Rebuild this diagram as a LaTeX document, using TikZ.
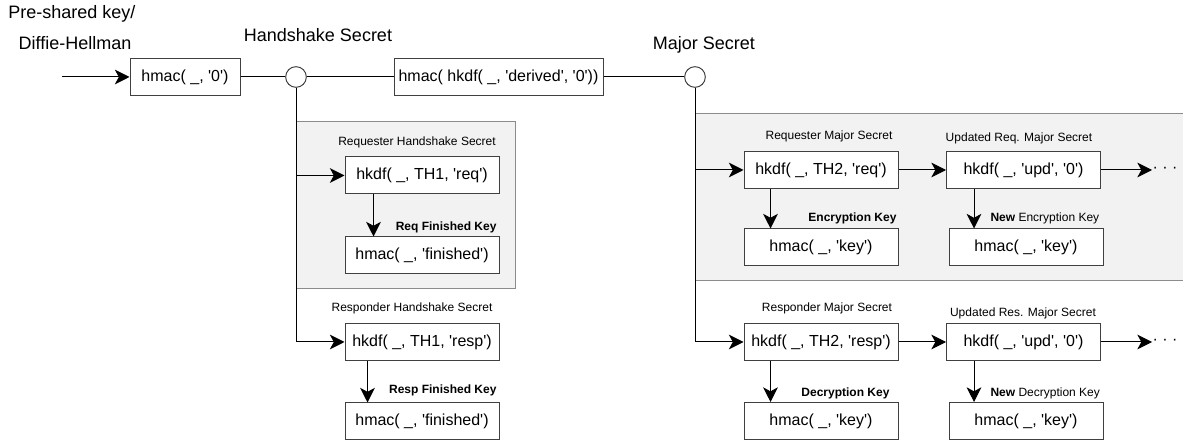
\documentclass[tikz,border=0pt]{standalone}
\usepackage{fontspec}
\setmainfont{Liberation Sans}[Ligatures=TeXOff]
\usetikzlibrary{arrows.meta}

\tikzset{
  keybox/.style={draw=black!75, fill=white, minimum width=115.5pt, minimum height=27.75pt, inner sep=0pt, font=\fontsize{12}{14}\selectfont},
  secret/.style={draw=black!75, fill=white, circle, minimum size=15.5pt, inner sep=0pt},
  tag/.style={inner sep=0pt, font=\fontsize{9}{11}\selectfont},
  title/.style={inner sep=0pt, font=\fontsize{13.5}{16}\selectfont},
  arr/.style={-{Stealth[length=11pt,width=11pt,inset=3pt]}},
  panel/.style={fill=black!5, draw=black!45},
}

\begin{document}
\begin{tikzpicture}[x=0.75pt,y=-0.75pt,line width=0.75pt]
    \useasboundingbox (0,0) rectangle (1183,441);
    % grey panels behind the requester branches
    \draw[panel] (296,122) rectangle (515,289);
    \fill[black!5] (695,114) rectangle (1183,281);
    \draw[black!45] (1183,114) -- (695,114) -- (695,281) -- (1183,281);

    % top row
    \node[title] (psk) at (72,14) {Pre-shared key/};
    \node[title] (dh) at (75,43) {Diffie-Hellman};
    \coordinate (in) at (62,77);
    \node[keybox, minimum width=82.5pt] (early) at (185,77) {hmac( \_, '0')};
    \node[secret] (hs) at (296,77) {};
    \node[title] (hslabel) at (318,35) {Handshake Secret};
    \node[keybox, minimum width=156.75pt] (derived) at (498.5,77) {hmac( hkdf( \_, 'derived', '0'))};
    \node[secret] (ms) at (695,77) {};
    \node[title] (mslabel) at (704,45) {Major Secret};

    \draw[arr] (in) -- (early); % input key
    \draw (early) -- (hs);
    \draw (hs) -- (derived);
    \draw (derived) -- (ms);

    % handshake secrets
    \node[keybox] (reqhs) at (422,175.5) {hkdf( \_, TH1, 'req')};
    \node[tag] (reqhslabel) at (417,142) {Requester Handshake Secret};
    \node[keybox] (reqfin) at (422,255.5) {hmac( \_, 'finished')};
    \node[tag, anchor=east] (reqfinlabel) at (497,227) {\bfseries Req Finished Key};
    \node[keybox] (resphs) at (422,342) {hkdf( \_, TH1, 'resp')};
    \node[tag] (resphslabel) at (412,308) {Responder Handshake Secret};
    \node[keybox] (respfin) at (422,421.5) {hmac( \_, 'finished')};
    \node[tag, anchor=east] (respfinlabel) at (497,390) {\bfseries Resp Finished Key};

    \draw[arr] (hs.south) |- (reqhs.west);
    \draw[arr] (hs.south) |- (resphs.west);
    \draw[arr] ([xshift=21.75pt]reqhs.south west) -- ([xshift=21.75pt]reqfin.north west);
    \draw[arr] ([xshift=17.25pt]resphs.south west) -- ([xshift=17.25pt]respfin.north west);

    % major secrets
    \node[keybox] (reqms) at (821,170) {hkdf( \_, TH2, 'req')};
    \node[tag] (reqmslabel) at (829,136) {Requester Major Secret};
    \node[keybox] (reqkey) at (821,247.5) {hmac( \_, 'key')};
    \node[tag, anchor=east] (reqkeylabel) at (897,218) {\bfseries Encryption Key};
    \node[keybox] (requpd) at (1023.5,170) {hkdf( \_, 'upd', '0')};
    \node[tag] (requpdlabel) at (1019,138) {Updated Req. Major Secret};
    \node[keybox] (requpdkey) at (1026,247.5) {hmac( \_, 'key')};
    \node[tag, anchor=west] (requpdkeylabel) at (990,218) {\bfseries New\mdseries{} Encryption Key};
    \node[anchor=west, inner sep=0pt, font=\fontsize{12}{14}\selectfont] (reqmore) at (1152,170) {· · ·};

    \node[keybox] (respms) at (821,342) {hkdf( \_, TH2, 'resp')};
    \node[tag] (respmslabel) at (827,308) {Responder Major Secret};
    \node[keybox] (respkey) at (821,421) {hmac( \_, 'key')};
    \node[tag, anchor=east] (respkeylabel) at (890,393) {\bfseries Decryption Key};
    \node[keybox] (respupd) at (1023.5,342) {hkdf( \_, 'upd', '0')};
    \node[tag] (respupdlabel) at (1023,313) {Updated Res. Major Secret};
    \node[keybox] (respupdkey) at (1026,421) {hmac( \_, 'key')};
    \node[tag, anchor=west] (respupdkeylabel) at (990,393) {\bfseries New\mdseries{} Decryption Key};
    \node[anchor=west, inner sep=0pt, font=\fontsize{12}{14}\selectfont] (respmore) at (1152,342) {· · ·};

    \draw[arr] (ms.south) |- (reqms.west);
    \draw[arr] (ms.south) |- (respms.west);
    \draw[arr] (reqms) -- (requpd);
    \draw[arr] (respms) -- (respupd);
    \draw[arr] (requpd) -- (reqmore);
    \draw[arr] (respupd) -- (respmore);
    \draw[arr] ([xshift=20.25pt]reqms.south west) -- ([xshift=20.25pt]reqkey.north west);
    \draw[arr] ([xshift=21pt]requpd.south west) -- ([xshift=21pt]requpd.south west |- requpdkey.north);
    \draw[arr] ([xshift=20.25pt]respms.south west) -- ([xshift=20.25pt]respkey.north west);
    \draw[arr] ([xshift=21pt]respupd.south west) -- ([xshift=21pt]respupd.south west |- respupdkey.north);
\end{tikzpicture}
\end{document}
